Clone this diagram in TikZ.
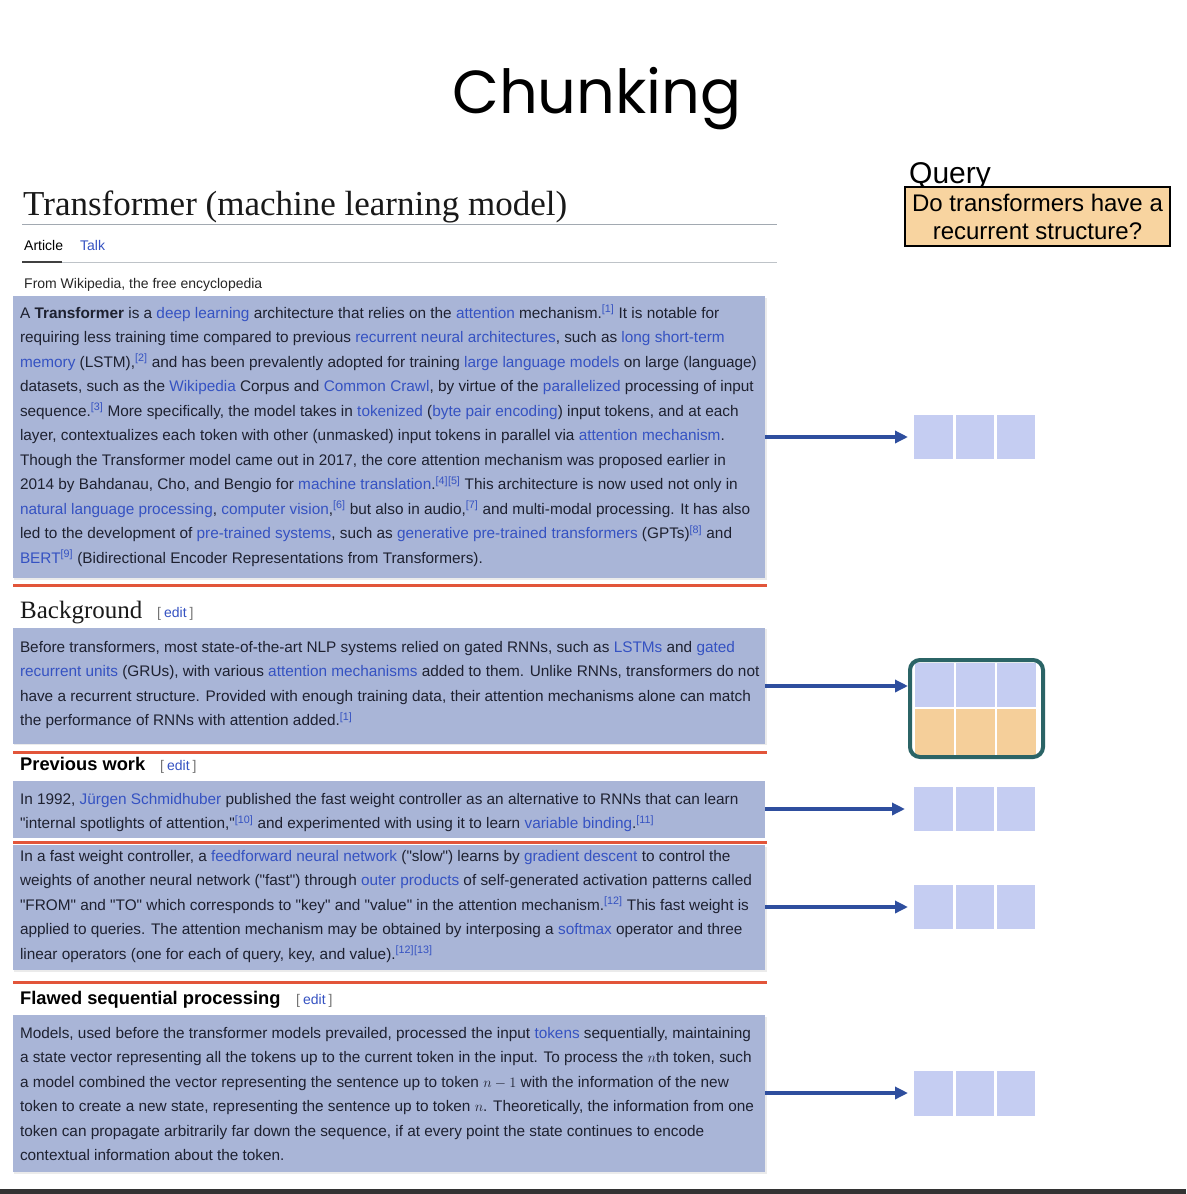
\documentclass[tikz,border=0pt]{standalone}
\usepackage{fontspec}
\setmainfont{Liberation Sans}[Ligatures=TeXOff]
\newfontfamily\wikiserif{Liberation Serif}
\newfontfamily\slidefont{Poppins}
\usetikzlibrary{arrows.meta}
\definecolor{txt}{HTML}{1E2130}
\definecolor{wlink}{HTML}{3552C2}
\definecolor{chunkfill}{HTML}{A9B5D7}
\definecolor{redline}{HTML}{E2553A}
\definecolor{arrowblue}{HTML}{2E4E9E}
\definecolor{cellblue}{HTML}{C5CDF2}
\definecolor{cellorange}{HTML}{F5CF9A}
\definecolor{tealb}{HTML}{2B6466}
\definecolor{qfill}{HTML}{F8D4A0}
\definecolor{wgray}{HTML}{A2A9B1}
\newcommand\lnk[1]{\textcolor{wlink}{#1}}
\newcommand\rfn[1]{\textsuperscript{\textcolor{wlink}{[#1]}}}
\newcommand\editlink{{\fontsize{14}{16}\selectfont\textcolor{black!55}{[}\hspace{3pt}\textcolor{wlink}{edit}\hspace{3pt}\textcolor{black!55}{]}}}
\newcommand\threecells[4]{%
  \fill[#4] (#1,#2) rectangle (#1+39,#3);
  \fill[#4] (#1+41.5,#2) rectangle (#1+80,#3);
  \fill[#4] (#1+82.5,#2) rectangle (#1+121,#3);}
\tikzset{
  wl/.style={anchor=base west, inner sep=0pt, outer sep=0pt, text=txt, font=\fontsize{15.35}{17}\selectfont},
  chunkbox/.style={fill=chunkfill, draw=none, inner sep=0pt, outer sep=0pt},
  sepline/.style={draw=redline, line width=3pt},
  emb/.style={-{Triangle[length=13pt,width=12pt]}, draw=arrowblue, fill=arrowblue, line width=3.6pt},
  vecgrp/.style={minimum width=121pt, minimum height=44pt, inner sep=0pt, outer sep=0pt},
  cellB/.style={fill=cellblue},
  cellO/.style={fill=cellorange},
  secbold/.style={anchor=base west, inner sep=0pt, text=black, font=\fontsize{18.3}{20}\selectfont\bfseries},
}
\begin{document}
\begin{tikzpicture}[x=1pt,y=-1pt]
\useasboundingbox (0,0) rectangle (1186,1194);
\fill[white] (0,0) rectangle (1186,1194);
\fill[black!80] (0,1189) rectangle (1186,1194);

% slide title
\node[anchor=base, inner sep=0pt, font=\slidefont\fontsize{60.7}{70}\selectfont] (title) at (597,113) {Chunking};

% wiki header
\node[anchor=base west, inner sep=0pt, font=\wikiserif\fontsize{35}{40}\selectfont, text=black!90] (wtitle) at (23,215) {Transformer (machine learning model)};
\draw[wgray, line width=1pt] (22,224) -- (777,224);
\node[anchor=base west, inner sep=0pt, font=\fontsize{14}{16}\selectfont] (article) at (24,250) {Article};
\node[anchor=base west, inner sep=0pt, font=\fontsize{14}{16}\selectfont, text=wlink] (talk) at (80,250) {Talk};
\draw[wgray!70, line width=1pt] (22,262) -- (777,262);
\draw[black!75, line width=2pt] (22,262) -- (62,262);
\node[anchor=base west, inner sep=0pt, font=\fontsize{14}{16}\selectfont, text=black!85] (from) at (24,288) {From Wikipedia, the free encyclopedia};

% chunk boxes (with a faint shadow)
\fill[black!8] (14,298) rectangle (767,580);
\fill[black!8] (14,629) rectangle (767,745);
\fill[black!8] (14,847) rectangle (767,972);
\fill[black!8] (14,1017) rectangle (767,1174);
\node[chunkbox, minimum width=752pt, minimum height=282pt] (c1) at (389,437) {};
\node[chunkbox, minimum width=752pt, minimum height=116pt] (c2) at (389,686) {};
\node[chunkbox, minimum width=752pt, minimum height=57pt] (c3) at (389,809) {};
\node[chunkbox, minimum width=752pt, minimum height=125pt] (c4) at (389,907) {};
\node[chunkbox, minimum width=752pt, minimum height=157pt] (c5) at (389,1093) {};

% separators
\draw[sepline] (13,585) -- (767,585);
\draw[sepline] (13,752) -- (767,752);
\draw[sepline] (13,842) -- (767,842);
\draw[sepline] (13,982) -- (767,982);

% chunk 1 text
\node[wl] (t11) at (20,318) {A \textbf{Transformer} is a \lnk{deep learning} architecture that relies on the \lnk{attention} mechanism.\rfn{1} It is notable for};
\node[wl] (t12) at (20,342.5) {requiring less training time compared to previous \lnk{recurrent neural architectures}, such as \lnk{long short-term}};
\node[wl] (t13) at (20,367) {\lnk{memory} (LSTM),\rfn{2} and has been prevalently adopted for training \lnk{large language models} on large (language)};
\node[wl] (t14) at (20,391.5) {datasets, such as the \lnk{Wikipedia} Corpus and \lnk{Common Crawl}, by virtue of the \lnk{parallelized} processing of input};
\node[wl] (t15) at (20,416) {sequence.\rfn{3} More specifically, the model takes in \lnk{tokenized} (\lnk{byte pair encoding}) input tokens, and at each};
\node[wl] (t16) at (20,440.5) {layer, contextualizes each token with other (unmasked) input tokens in parallel via \lnk{attention mechanism}.};
\node[wl] (t17) at (20,465) {Though the Transformer model came out in 2017, the core attention mechanism was proposed earlier in};
\node[wl] (t18) at (20,489.5) {2014 by Bahdanau, Cho, and Bengio for \lnk{machine translation}.\rfn{4}\rfn{5} This architecture is now used not only in};
\node[wl] (t19) at (20,514) {\lnk{natural language processing}, \lnk{computer vision},\rfn{6} but also in audio,\rfn{7} and multi-modal processing. It has also};
\node[wl] (t110) at (20,538.5) {led to the development of \lnk{pre-trained systems}, such as \lnk{generative pre-trained transformers} (GPTs)\rfn{8} and};
\node[wl] (t111) at (20,563) {\lnk{BERT}\rfn{9} (Bidirectional Encoder Representations from Transformers).};

% Background heading
\node[anchor=base west, inner sep=0pt, font=\wikiserif\fontsize{25}{28}\selectfont, text=black!90] (bg) at (20,618) {Background};
\node[anchor=base west, inner sep=0pt] (bgedit) at (157,617) {\editlink};

% chunk 2 text
\node[wl] (t21) at (20,652) {Before transformers, most state-of-the-art NLP systems relied on gated RNNs, such as \lnk{LSTMs} and \lnk{gated}};
\node[wl] (t22) at (20,676.5) {\lnk{recurrent units} (GRUs), with various \lnk{attention mechanisms} added to them. Unlike RNNs, transformers do not};
\node[wl] (t23) at (20,701) {have a recurrent structure. Provided with enough training data, their attention mechanisms alone can match};
\node[wl] (t24) at (20,725.5) {the performance of RNNs with attention added.\rfn{1}};

% Previous work heading
\node[secbold] (pw) at (20,770) {Previous work};
\node[anchor=base west, inner sep=0pt] (pwedit) at (160,770) {\editlink};

% chunk 3 text
\node[wl] (t31) at (20,804) {In 1992, \lnk{Jürgen Schmidhuber} published the fast weight controller as an alternative to RNNs that can learn};
\node[wl] (t32) at (20,828.5) {"internal spotlights of attention,"\rfn{10} and experimented with using it to learn \lnk{variable binding}.\rfn{11}};

% chunk 4 text
\node[wl] (t41) at (20,861) {In a fast weight controller, a \lnk{feedforward neural network} ("slow") learns by \lnk{gradient descent} to control the};
\node[wl] (t42) at (20,885.5) {weights of another neural network ("fast") through \lnk{outer products} of self-generated activation patterns called};
\node[wl] (t43) at (20,910) {"FROM" and "TO" which corresponds to "key" and "value" in the attention mechanism.\rfn{12} This fast weight is};
\node[wl] (t44) at (20,934.5) {applied to queries. The attention mechanism may be obtained by interposing a \lnk{softmax} operator and three};
\node[wl] (t45) at (20,959) {linear operators (one for each of query, key, and value).\rfn{12}\rfn{13}};

% Flawed heading
\node[secbold] (fs) at (20,1004) {Flawed sequential processing};
\node[anchor=base west, inner sep=0pt] (fsedit) at (296,1004) {\editlink};

% chunk 5 text
\node[wl] (t51) at (20,1038) {Models, used before the transformer models prevailed, processed the input \lnk{tokens} sequentially, maintaining};
\node[wl] (t52) at (20,1062.5) {a state vector representing all the tokens up to the current token in the input. To process the $n$th token, such};
\node[wl] (t53) at (20,1087) {a model combined the vector representing the sentence up to token $n-1$ with the information of the new};
\node[wl] (t54) at (20,1111.5) {token to create a new state, representing the sentence up to token $n$. Theoretically, the information from one};
\node[wl] (t55) at (20,1136) {token can propagate arbitrarily far down the sequence, if at every point the state continues to encode};
\node[wl] (t56) at (20,1160.5) {contextual information about the token.};

% query
\node[anchor=base west, inner sep=0pt, font=\fontsize{30}{31}\selectfont] (qlabel) at (909,183) {Query};
\node[draw=black, line width=1.3pt, fill=qfill, minimum width=265pt, minimum height=59pt, align=center, inner sep=0pt, font=\fontsize{24}{28}\selectfont] (qbox) at (1037.5,216.5) {Do transformers have a\\recurrent structure?};

% embedding vectors
\node[vecgrp] (v1) at (974.5,437) {};
\threecells{914}{415}{459}{cellB}
\node[vecgrp] (v3) at (974.5,809) {};
\threecells{914}{787}{831}{cellB}
\node[vecgrp] (v4) at (974.5,907) {};
\threecells{914}{885}{929}{cellB}
\node[vecgrp] (v5) at (974.5,1093) {};
\threecells{914}{1071}{1116}{cellB}

% highlighted (retrieved) vector
\begin{scope}
\clip[rounded corners=10pt] (910,660) rectangle (1043,757);
\threecells{914.5}{663}{706.5}{cellB}
\threecells{914.5}{709}{755}{cellO}
\end{scope}
\node[draw=tealb, line width=4pt, rounded corners=10pt, minimum width=133pt, minimum height=97pt, inner sep=0pt] (hv) at (976.5,708.5) {};

% arrows
\draw[emb, shorten >=6pt] (c1.east) -- (c1.east -| v1.west);
\draw[emb] (c2.east) -- (c2.east -| hv.west);
\draw[emb, shorten >=9pt] (c3.east) -- (c3.east -| v3.west);
\draw[emb, shorten >=6pt] (c4.east) -- (c4.east -| v4.west);
\draw[emb, shorten >=6pt] (c5.east) -- (c5.east -| v5.west);
\end{tikzpicture}
\end{document}
